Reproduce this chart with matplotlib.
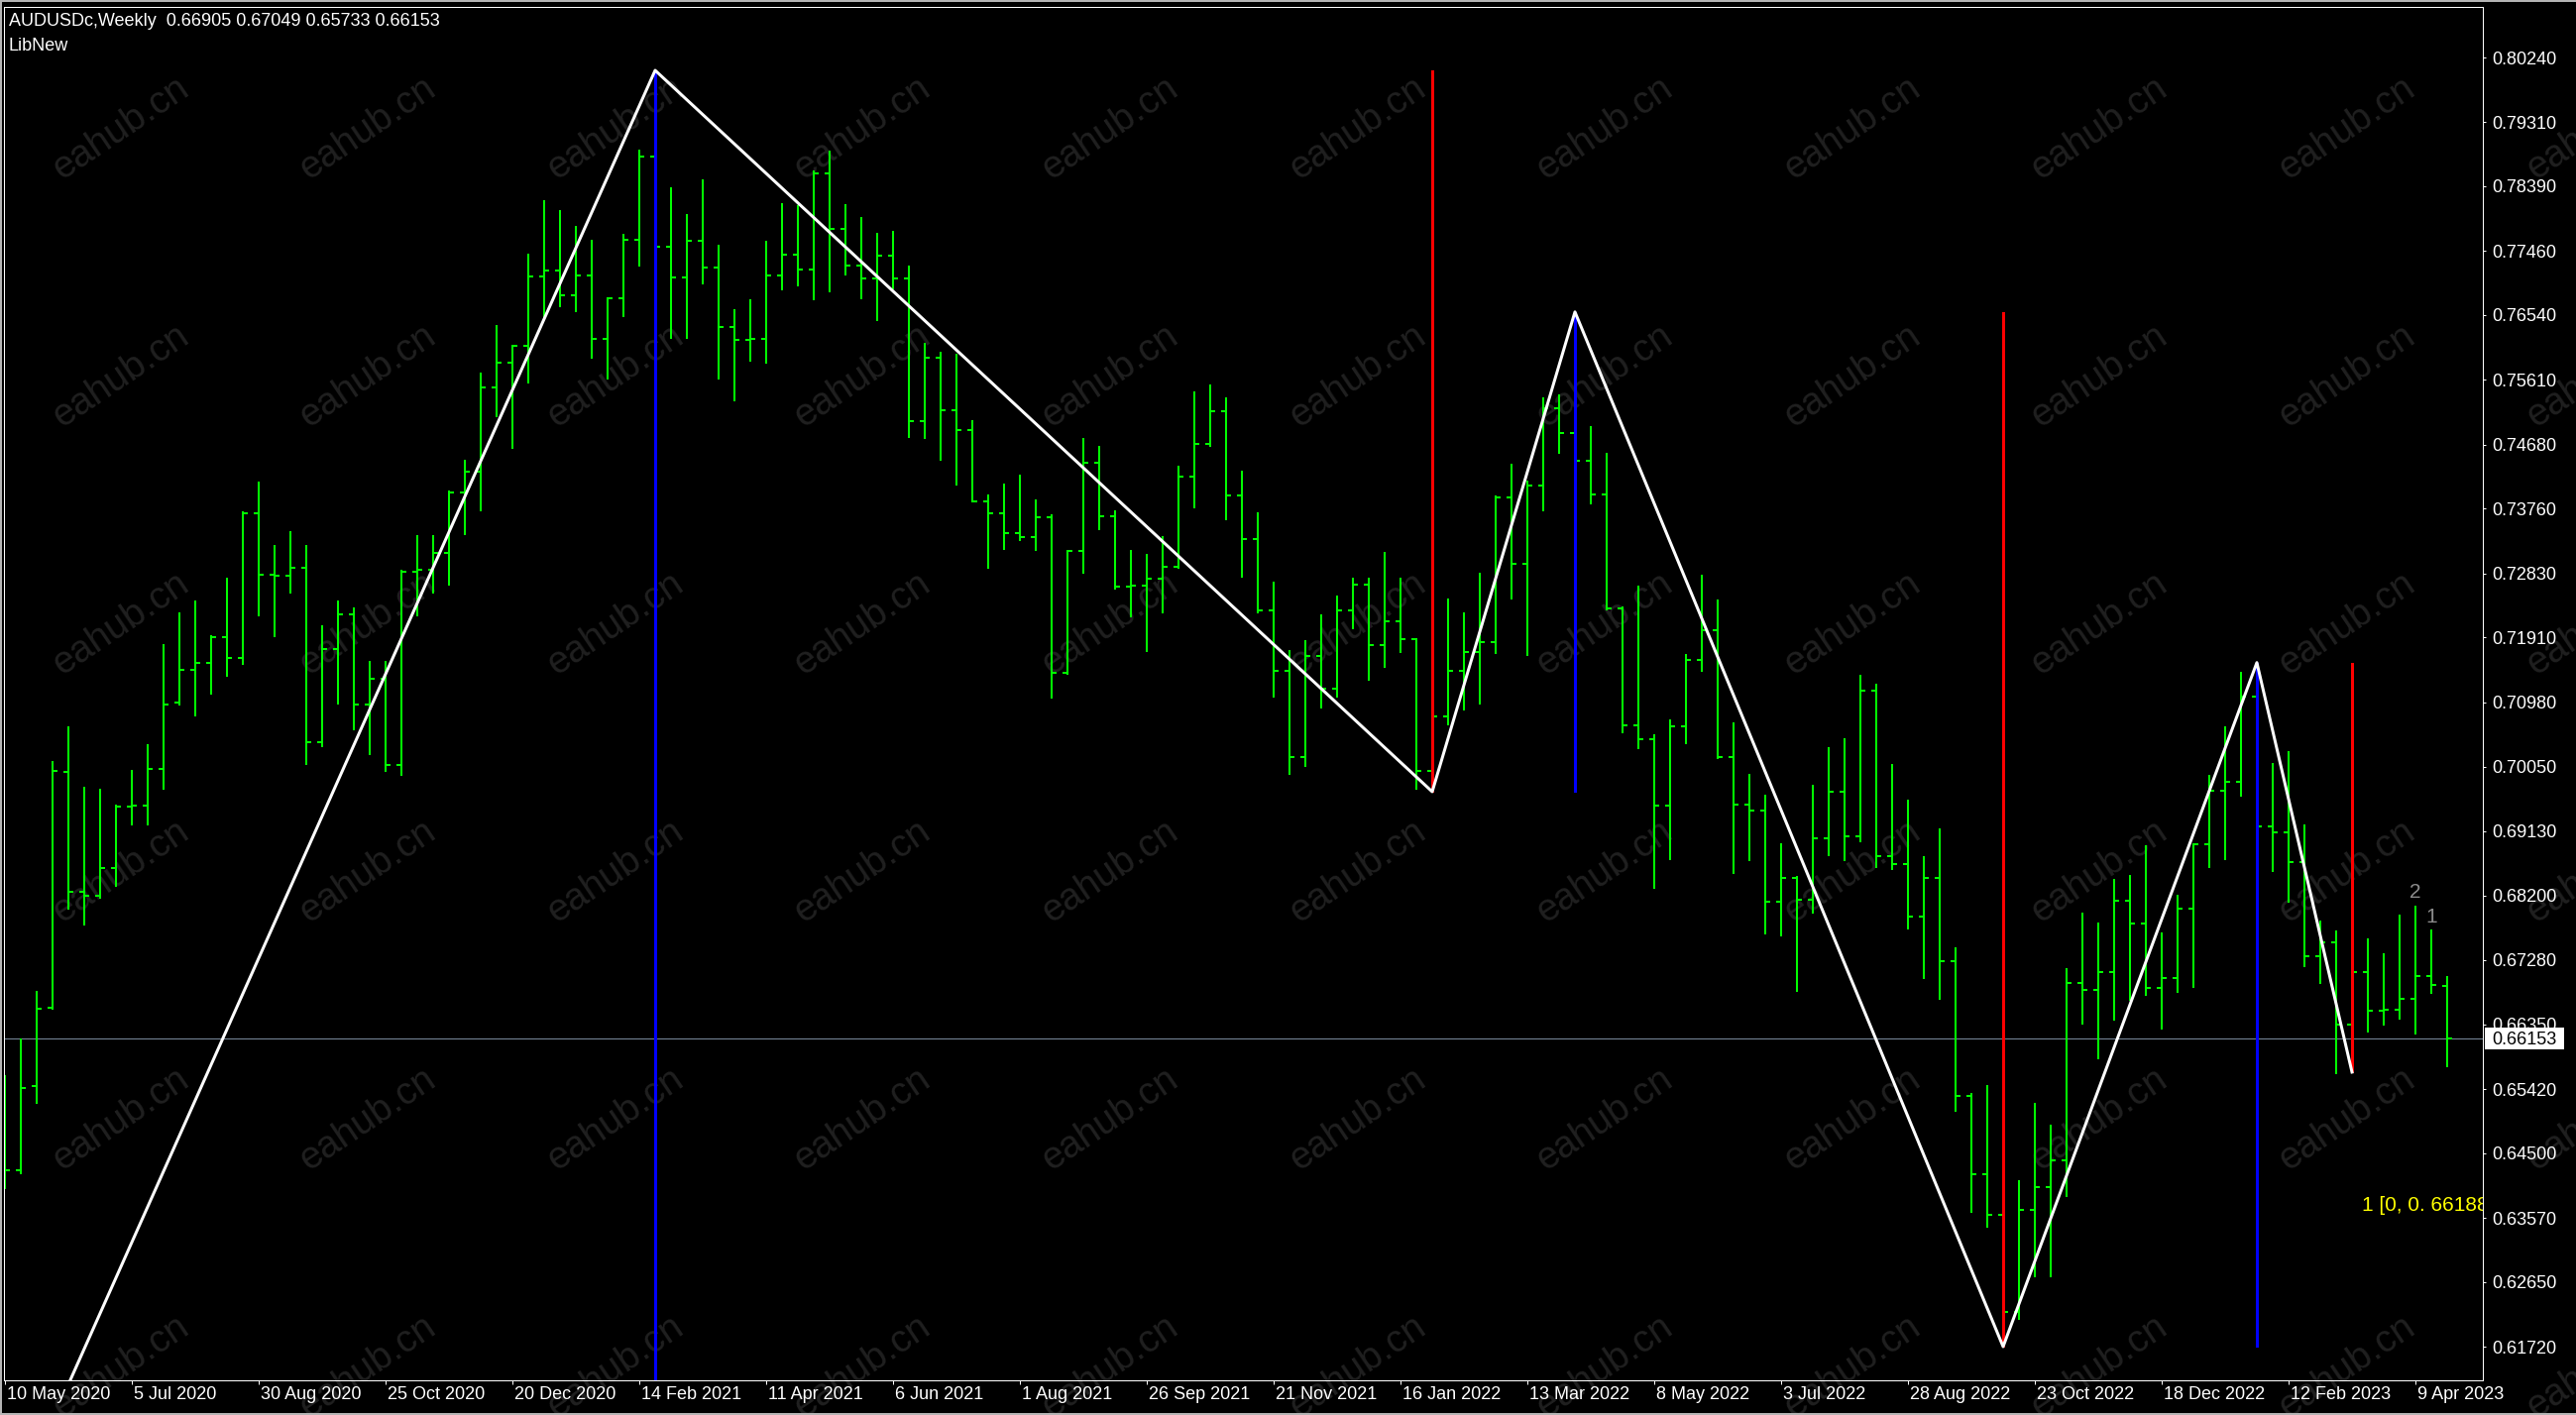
import numpy as np
import matplotlib
matplotlib.use('Agg')
import matplotlib.pyplot as plt
from matplotlib.transforms import ScaledTranslation, blended_transform_factory
from matplotlib.patches import Rectangle
from matplotlib.lines import Line2D

plt.rcParams['font.family'] = ['Liberation Sans', 'DejaVu Sans']

# ---------------- data (AUDUSDc weekly, from 10 May 2020) ----------------
opens = [
    0.65300, 0.64257, 0.65467, 0.66591, 0.69979, 0.68256, 0.68199, 0.68598, 0.69480, 0.69495,
    0.70021, 0.70975, 0.71445, 0.71544, 0.71914, 0.71615, 0.73693, 0.72811, 0.72800, 0.72911,
    0.70406, 0.71743, 0.72242, 0.70946, 0.71316, 0.70078, 0.72854, 0.72882, 0.73124, 0.73992,
    0.74291, 0.75501, 0.75857, 0.76099, 0.77095, 0.77180, 0.76825, 0.77109, 0.76198, 0.76782,
    0.77622, 0.78810, 0.77522, 0.77081, 0.77607, 0.77223, 0.76369, 0.76184, 0.76198, 0.77109,
    0.77408, 0.77195, 0.78575, 0.77778, 0.77252, 0.77067, 0.77394, 0.77067, 0.75017, 0.75928,
    0.75174, 0.74889, 0.73864, 0.73686, 0.73409, 0.73352, 0.73636, 0.71395, 0.73153, 0.74419,
    0.73651, 0.72640, 0.72650, 0.72754, 0.72925, 0.74220, 0.74690, 0.75159, 0.73950, 0.73323,
    0.72299, 0.71430, 0.70192, 0.71644, 0.71174, 0.72299, 0.72669, 0.71793, 0.72142, 0.71886,
    0.69993, 0.70776, 0.71430, 0.71701, 0.71843, 0.73921, 0.72967, 0.74092, 0.75202, 0.74846,
    0.74448, 0.73964, 0.72327, 0.70647, 0.70448, 0.69495, 0.70633, 0.71587, 0.72014, 0.70192,
    0.69509, 0.69423, 0.68114, 0.68456, 0.68135, 0.69025, 0.69694, 0.69053, 0.71146, 0.68769,
    0.68655, 0.67901, 0.68456, 0.67260, 0.65317, 0.64200, 0.63616, 0.62222, 0.63688, 0.64008,
    0.64399, 0.66947, 0.66840, 0.67109, 0.68121, 0.67801, 0.66876, 0.67018, 0.68014, 0.68940,
    0.69708, 0.69836, 0.71060, 0.69196, 0.69110, 0.68683, 0.67331, 0.67530, 0.66349, 0.67103,
    0.66548, 0.66560, 0.66719, 0.67047, 0.66905]

highs = [
    0.65623, 0.66150, 0.66833, 0.70128, 0.70633, 0.69765, 0.69737, 0.69509, 0.70007, 0.70377,
    0.71815, 0.72270, 0.72441, 0.71943, 0.72768, 0.73722, 0.74149, 0.73238, 0.73437, 0.73238,
    0.72085, 0.72441, 0.72341, 0.71573, 0.71573, 0.72882, 0.73380, 0.73380, 0.74021, 0.74462,
    0.75714, 0.76398, 0.76113, 0.77422, 0.78191, 0.78049, 0.77821, 0.77622, 0.76796, 0.77707,
    0.78910, 0.80055, 0.78376, 0.77992, 0.78490, 0.77550, 0.76625, 0.76768, 0.77607, 0.78148,
    0.78120, 0.78618, 0.78903, 0.78134, 0.77949, 0.77721, 0.77750, 0.77252, 0.76141, 0.76013,
    0.75985, 0.75031, 0.73957, 0.74127, 0.74254, 0.73893, 0.73680, 0.73167, 0.74775, 0.74661,
    0.73736, 0.73167, 0.73110, 0.73366, 0.74377, 0.75444, 0.75544, 0.75359, 0.74305, 0.73708,
    0.72711, 0.71729, 0.71872, 0.72242, 0.72512, 0.72768, 0.72770, 0.73138, 0.72768, 0.71900,
    0.71103, 0.72469, 0.72270, 0.72832, 0.73942, 0.74405, 0.74163, 0.75359, 0.75401, 0.76585,
    0.74946, 0.74562, 0.72355, 0.72654, 0.70519, 0.70733, 0.71665, 0.72811, 0.72448, 0.70690,
    0.69950, 0.69651, 0.68954, 0.68484, 0.69794, 0.70334, 0.70462, 0.71373, 0.71245, 0.70092,
    0.69573, 0.68769, 0.69167, 0.67459, 0.65360, 0.65481, 0.63915, 0.64115, 0.65225, 0.64912,
    0.67160, 0.67957, 0.67815, 0.68441, 0.68504, 0.68925, 0.67673, 0.68207, 0.68954, 0.69936,
    0.70633, 0.71416, 0.71548, 0.70107, 0.70277, 0.69224, 0.67844, 0.67701, 0.67331, 0.67587,
    0.67374, 0.67929, 0.68057, 0.67715, 0.67049]

lows = [
    0.63986, 0.64200, 0.65210, 0.66560, 0.68000, 0.67772, 0.68157, 0.68327, 0.69210, 0.69210,
    0.69722, 0.70932, 0.70776, 0.71089, 0.71345, 0.71516, 0.72213, 0.71914, 0.72540, 0.70078,
    0.70334, 0.70946, 0.70576, 0.70221, 0.69979, 0.69922, 0.72213, 0.72540, 0.72654, 0.73380,
    0.73722, 0.75074, 0.74619, 0.75558, 0.76483, 0.76654, 0.76583, 0.75914, 0.75615, 0.76511,
    0.77237, 0.77394, 0.76198, 0.76198, 0.76981, 0.75615, 0.75302, 0.75871, 0.75843, 0.76896,
    0.76953, 0.76753, 0.76867, 0.77109, 0.76768, 0.76455, 0.76910, 0.74775, 0.74761, 0.74448,
    0.74092, 0.73850, 0.72896, 0.73167, 0.73295, 0.73153, 0.71032, 0.71370, 0.72825, 0.73451,
    0.72590, 0.72199, 0.71701, 0.72256, 0.72900, 0.73765, 0.74647, 0.73594, 0.72768, 0.72256,
    0.71046, 0.69936, 0.70050, 0.70889, 0.71046, 0.72028, 0.71288, 0.71473, 0.71687, 0.69722,
    0.69694, 0.70647, 0.70861, 0.70946, 0.71665, 0.72448, 0.71644, 0.73722, 0.74547, 0.74405,
    0.73821, 0.72299, 0.70534, 0.70306, 0.68299, 0.68712, 0.70377, 0.71416, 0.70170, 0.68513,
    0.68698, 0.67644, 0.67616, 0.66819, 0.67936, 0.68769, 0.68698, 0.68968, 0.68598, 0.68569,
    0.67715, 0.67004, 0.66705, 0.65097, 0.63645, 0.63431, 0.61723, 0.62108, 0.62720, 0.62720,
    0.63873, 0.66349, 0.65851, 0.66406, 0.66691, 0.66755, 0.66278, 0.66805, 0.66876, 0.68598,
    0.68712, 0.69623, 0.69110, 0.68541, 0.68100, 0.67175, 0.66933, 0.65637, 0.65666, 0.66235,
    0.66335, 0.66420, 0.66207, 0.66790, 0.65733]

closes = [
    0.64257, 0.65438, 0.66577, 0.69993, 0.68256, 0.68199, 0.68598, 0.69480, 0.69495, 0.70021,
    0.70946, 0.71445, 0.71544, 0.71914, 0.71615, 0.73693, 0.72811, 0.72800, 0.72911, 0.70406,
    0.71743, 0.72242, 0.70946, 0.71316, 0.70078, 0.72854, 0.72882, 0.73124, 0.73992, 0.74291,
    0.75501, 0.75857, 0.76099, 0.77095, 0.77180, 0.76825, 0.77109, 0.76198, 0.76782, 0.77622,
    0.78810, 0.77522, 0.77081, 0.77607, 0.77223, 0.76369, 0.76184, 0.76198, 0.77109, 0.77408,
    0.77195, 0.78575, 0.77778, 0.77252, 0.77067, 0.77394, 0.77067, 0.75017, 0.75928, 0.75174,
    0.74889, 0.73864, 0.73686, 0.73409, 0.73352, 0.73636, 0.71395, 0.73153, 0.74419, 0.73651,
    0.72640, 0.72650, 0.72754, 0.72925, 0.74220, 0.74690, 0.75159, 0.73950, 0.73323, 0.72299,
    0.71430, 0.70192, 0.71644, 0.71174, 0.72299, 0.72669, 0.71793, 0.72142, 0.71886, 0.69993,
    0.70776, 0.71430, 0.71701, 0.71843, 0.73921, 0.72967, 0.74092, 0.75202, 0.74846, 0.74448,
    0.73964, 0.72327, 0.70647, 0.70448, 0.69495, 0.70633, 0.71587, 0.72014, 0.70192, 0.69509,
    0.69423, 0.68114, 0.68456, 0.68135, 0.69025, 0.69694, 0.69053, 0.71146, 0.68769, 0.68655,
    0.67901, 0.68456, 0.67260, 0.65317, 0.64200, 0.63616, 0.62222, 0.63688, 0.64008, 0.64399,
    0.66947, 0.66840, 0.67109, 0.68121, 0.67801, 0.66876, 0.67018, 0.68014, 0.68940, 0.69708,
    0.69836, 0.71060, 0.69196, 0.69110, 0.68683, 0.67331, 0.67530, 0.66349, 0.67103, 0.66548,
    0.66560, 0.66719, 0.67047, 0.66918, 0.66153]

date_labels = ['10 May 2020', '5 Jul 2020', '30 Aug 2020', '25 Oct 2020', '20 Dec 2020',
               '14 Feb 2021', '11 Apr 2021', '6 Jun 2021', '1 Aug 2021', '26 Sep 2021',
               '21 Nov 2021', '16 Jan 2022', '13 Mar 2022', '8 May 2022', '3 Jul 2022',
               '28 Aug 2022', '23 Oct 2022', '18 Dec 2022', '12 Feb 2023', '9 Apr 2023']
label_step = 8

price_ticks = [0.80240, 0.79310, 0.78390, 0.77460, 0.76540, 0.75610, 0.74680, 0.73760,
               0.72830, 0.71910, 0.70980, 0.70050, 0.69130, 0.68200, 0.67280, 0.66350,
               0.65420, 0.64500, 0.63570, 0.62650, 0.61720]

# zigzag turning points (bar index, price)
zz_bars = [-8, 41, 90, 99, 126, 142, 148]
zz_prices = [0.55060, 0.80055, 0.69694, 0.76585, 0.61723, 0.71548, 0.65666]

last_price = 0.66153
header_text = 'AUDUSDc,Weekly  0.66905 0.67049 0.65733 0.66153'
indicator_name = 'LibNew'
level_text = '1 [0, 0. 66188'
level_bar = 148.6
level_price = 0.63677
wave_labels = ['2', '1']
wave_label_bars = [152, 153]
y_range = (0.61239, 0.80966)
watermark = 'eahub.cn'

# ---------------- figure ----------------
W, H, DPI = 2599, 1428, 100
PX = 72 / DPI  # points per pixel
fig = plt.figure(figsize=(W / DPI, H / DPI), dpi=DPI, facecolor='black')

# watermark grid (behind everything)
for cx in 121.7 + 249.6 * np.arange(0, 11):
    for cy in 130 + 250 * np.arange(0, 6):
        fig.text(cx / W, 1 - cy / H, watermark, rotation=34, rotation_mode='anchor',
                 ha='center', va='center', fontsize=27.5, color='#202020', zorder=-5)

ax_l, ax_r, ax_t, ax_b = 4, 2505, 7, 1393
ax = fig.add_axes([ax_l / W, (H - ax_b) / H, (ax_r - ax_l) / W, (ax_b - ax_t) / H])
ax.set_facecolor('none')

n = len(opens)
x = np.arange(n)
ax.set_xlim(-0.0625, 156.25)
ax.set_ylim(*y_range)

# current price line
ax.axhline(last_price, color='#778899', lw=1 * PX, zorder=1)

# OHLC bars
green = '#00ff00'
ax.vlines(x, lows, highs, color=green, lw=2 * PX, zorder=2, antialiased=False)
ax.hlines(opens, x - 0.3, x, color=green, lw=2 * PX, zorder=2, antialiased=False)
ax.hlines(closes, x, x + 0.3, color=green, lw=2 * PX, zorder=2, antialiased=False)

# vertical swing lines
for i in range(1, len(zz_bars)):
    col = '#0000ff' if zz_prices[i] > zz_prices[i - 1] else '#ff0000'
    ax.vlines(zz_bars[i], zz_prices[i - 1], zz_prices[i], color=col, lw=3 * PX,
              zorder=3, antialiased=False)

# zigzag
ax.plot(zz_bars, zz_prices, color='white', lw=3 * PX, zorder=4)

# wave labels
for lbl, b in zip(wave_labels, wave_label_bars):
    ax.annotate(lbl, xy=(b, highs[b]), xytext=(0, 7.5 * PX), textcoords='offset points',
                ha='center', va='baseline', color='#8c8c8c', fontsize=15, zorder=5)

# yellow level text (clipped at the plot edge)
ax.text(level_bar, level_price, level_text, color='#ffff00', fontsize=15,
        ha='left', va='baseline', clip_on=True, zorder=5)

# axes styling
for s in ax.spines.values():
    s.set_color('white')
    s.set_linewidth(1 * PX)

ax.yaxis.tick_right()
ax.set_yticks(price_ticks)
ax.set_yticklabels([f'{v:.5f}' for v in price_ticks])
ax.tick_params(axis='y', colors='white', labelcolor='white', length=3 * PX,
               width=1 * PX, pad=6 * PX, labelsize=13)

ax.set_xticks(x[::label_step])
ax.set_xticklabels(date_labels, ha='left')
ax.tick_params(axis='x', colors='white', labelcolor='white', length=4 * PX,
               width=1 * PX, pad=1.5, labelsize=13)
off = ScaledTranslation(2 / DPI, 0, fig.dpi_scale_trans)
for lab in ax.get_xticklabels():
    lab.set_transform(lab.get_transform() + off)

# current price box on the price scale
bl = blended_transform_factory(ax.transAxes, ax.transData)
box_tr = fig.dpi_scale_trans + ScaledTranslation(1.0, last_price, bl)
ax.add_patch(Rectangle((2 / DPI, -11 / DPI), 80 / DPI, 22 / DPI, transform=box_tr,
                       fc='white', ec='none', clip_on=False, zorder=6))
ax.text(9 / DPI, 0, f'{last_price:.5f}', transform=box_tr, ha='left',
        va='center_baseline', color='black', fontsize=13, clip_on=False, zorder=7)

# header texts
fig.text(9 / W, 1 - 26 / H, header_text, color='white', fontsize=13, va='baseline', zorder=10)
fig.text(9 / W, 1 - 51 / H, indicator_name, color='white', fontsize=13, va='baseline', zorder=10)

# window frame
frame_col = '#b4b4b4'
fig.add_artist(Line2D([0, 1], [1 - 1 / H, 1 - 1 / H], transform=fig.transFigure,
                      color=frame_col, lw=2 * PX))
fig.add_artist(Line2D([0, 1], [1 / H, 1 / H], transform=fig.transFigure,
                      color=frame_col, lw=2 * PX))
fig.add_artist(Line2D([1 / W, 1 / W], [0, 1], transform=fig.transFigure,
                      color=frame_col, lw=2 * PX))

fig.savefig('out.png', dpi=DPI, facecolor='black')
